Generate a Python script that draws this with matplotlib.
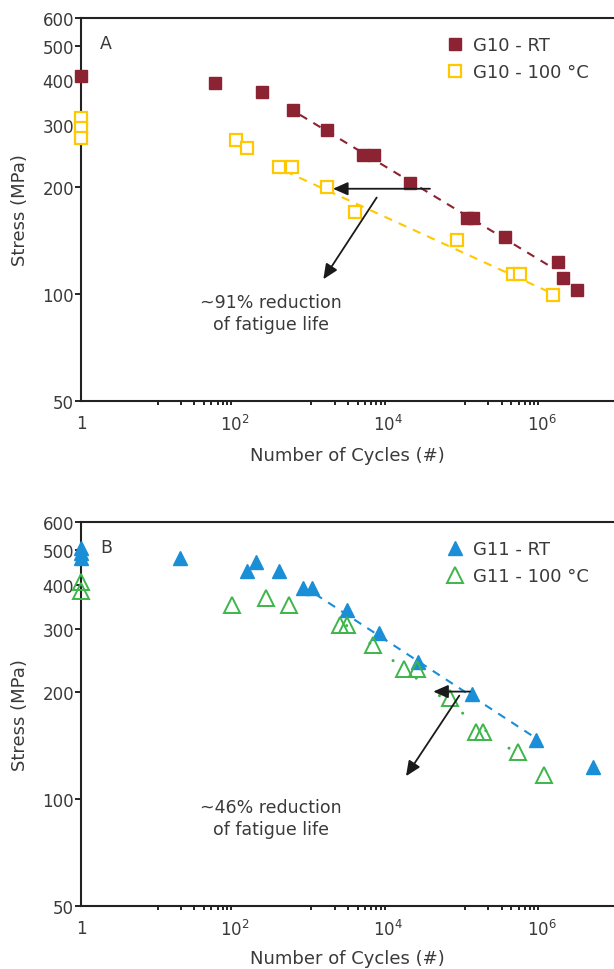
import numpy as np
import matplotlib
matplotlib.use('Agg')
import matplotlib.pyplot as plt
from matplotlib.ticker import FixedLocator, FixedFormatter, NullFormatter

plt.rcParams['font.family'] = ['DejaVu Sans']
plt.rcParams['mathtext.fontset'] = 'dejavusans'

TXT = '#3a3a3a'

# panel A - G10
g10_rt_n = [1, 56, 225, 571, 1583, 4740, 6530, 19200, 105000, 128500, 331000, 1.61e6, 1.9e6, 2.9e6]
g10_rt_s = [412, 393, 370, 330, 290, 247, 247, 205, 164, 164, 145, 123, 111, 102.6]
g10_ht_n = [1, 1, 1, 103, 146, 382, 559, 1583, 3700, 78000, 425000, 520000, 1.41e6]
g10_ht_s = [313, 293, 275, 272, 258, 228, 228, 200, 170, 142, 114, 114, 99.4]
g10_rt_fit_n = [710, 1.34e6]
g10_rt_fit_s = [320, 119]
g10_ht_fit_n = [453, 1.16e6]
g10_ht_fit_s = [222, 102]

# panel B - G11
g11_rt_n = [1, 1, 1, 19.5, 144, 188, 382, 785, 1010, 2880, 7590, 24660, 124000, 832000, 4.68e6]
g11_rt_s = [508, 492, 475, 475, 438, 463, 438, 391, 391, 340, 293, 242, 197, 146, 122.6]
g11_ht_n = [1, 1, 93, 254, 515, 2360, 2940, 6280, 16060, 23500, 63800, 137700, 170000, 485000, 1.08e6]
g11_ht_s = [407, 383, 350, 367, 350, 308, 308, 270, 232, 232, 192, 154, 154, 135, 116.7]
g11_rt_fit_n = [1114, 948000]
g11_rt_fit_s = [377, 145.5]
g11_ht_fit_n = [2880, 675000]
g11_ht_fit_s = [307, 126]

# arrows: (x_from, y_from, x_to, y_to)
arrows_a = [(35000, 198, 1910, 198), (7080, 187, 1430, 110)]
arrows_b = [(116000, 200.2, 38600, 200.2), (84300, 195, 17050, 115.7)]

y_ticks = [50, 100, 200, 300, 400, 500, 600]
x_ticks = [1, 1e2, 1e4, 1e6]
x_labels = ['1', r'$\mathregular{10^{2}}$', r'$\mathregular{10^{4}}$', r'$\mathregular{10^{6}}$']

RED = '#8B2332'
YEL = '#FFC800'
BLUE = '#1A8ED6'
GREEN = '#3DB54A'

fig = plt.figure(figsize=(6.14, 9.70), dpi=100)
axA = fig.add_axes([0.1319, 0.5859, 0.8681, 0.3945])
axB = fig.add_axes([0.1319, 0.0653, 0.8681, 0.3953])


def style(ax, letter, xpad):
    ax.set_xscale('log')
    ax.set_yscale('log')
    ax.set_xlim(1, 10 ** 6.94)
    ax.set_ylim(50, 600)
    ax.spines['right'].set_visible(False)
    for s in ['left', 'bottom', 'top']:
        ax.spines[s].set_linewidth(1.5)
        ax.spines[s].set_color('#222222')
    ax.yaxis.set_major_locator(FixedLocator(y_ticks))
    ax.yaxis.set_major_formatter(FixedFormatter([str(v) for v in y_ticks]))
    ax.yaxis.set_minor_locator(FixedLocator([]))
    ax.xaxis.set_major_locator(FixedLocator(x_ticks))
    ax.xaxis.set_major_formatter(FixedFormatter(x_labels))
    minors = [k * 10 ** d for d in (1, 3, 5) for k in range(1, 10)]
    ax.xaxis.set_minor_locator(FixedLocator(minors))
    ax.xaxis.set_minor_formatter(NullFormatter())
    ax.tick_params(axis='y', which='major', length=4, width=1.2, labelsize=12,
                   labelcolor=TXT, pad=1)
    ax.tick_params(axis='x', which='major', length=0, labelsize=12,
                   labelcolor=TXT, pad=9.5)
    ax.tick_params(axis='x', which='minor', length=3, width=1.2)
    ax.set_ylabel('Stress (MPa)', fontsize=13, color=TXT, labelpad=10)
    ax.set_xlabel('Number of Cycles (#)', fontsize=13, color=TXT, labelpad=xpad)
    ax.text(0.047, 0.935, letter, transform=ax.transAxes, fontsize=12.5,
            color=TXT, ha='center', va='center')


style(axA, 'A', 9)
style(axB, 'B', 7.5)

# panel A
axA.plot(g10_rt_fit_n, g10_rt_fit_s, color=RED, lw=1.5, ls=(0, (4, 3.5)))
axA.plot(g10_ht_fit_n, g10_ht_fit_s, color=YEL, lw=1.5, ls=(0, (4, 3.5)))
axA.plot(g10_rt_n, g10_rt_s, 's', color=RED, ms=8.6, mec=RED, ls='none',
         clip_on=False, zorder=5, label='G10 - RT')
axA.plot(g10_ht_n, g10_ht_s, 's', color=YEL, ms=8.2, mfc='white', mec=YEL,
         mew=1.6, ls='none', clip_on=False, zorder=5, label='G10 - 100 °C')

# panel B
axB.plot(g11_rt_fit_n, g11_rt_fit_s, color=BLUE, lw=1.5, ls=(0, (4, 3.5)))
axB.plot(g11_ht_fit_n, g11_ht_fit_s, color=GREEN, lw=2.2, ls=(0, (0.01, 9.5)),
         dash_capstyle='round')
axB.plot(g11_rt_n, g11_rt_s, '^', color=BLUE, ms=10, mec=BLUE, ls='none',
         clip_on=False, zorder=5, label='G11 - RT')
axB.plot(g11_ht_n, g11_ht_s, '^', color=GREEN, ms=11.5, mfc='none', mec=GREEN,
         mew=1.4, ls='none', clip_on=False, zorder=5, label='G11 - 100 °C')

for ax, arrows in ((axA, arrows_a), (axB, arrows_b)):
    for x0, y0, x1, y1 in arrows:
        ax.annotate('', xy=(x1, y1), xytext=(x0, y0),
                    arrowprops=dict(arrowstyle='-|>,head_length=0.9,head_width=0.4',
                                    color='#1a1a1a', lw=1.3, shrinkA=0, shrinkB=0),
                    zorder=6)

for ax, pct, ypix in ((axA, '~91%', 314), (axB, '~46%', 819)):
    ax.text(271 / 100, (970 - ypix) / 100, pct + ' reduction\nof fatigue life',
            transform=fig.dpi_scale_trans, fontsize=12.5, color=TXT,
            ha='center', va='center', linespacing=1.3)

for ax in (axA, axB):
    leg = ax.legend(loc='upper left', bbox_to_anchor=(0.672, 0.972), frameon=False,
                    handlelength=1.0, handletextpad=0.45,
                    labelspacing=0.5, borderaxespad=0, prop={'size': 13})
    for t in leg.get_texts():
        t.set_color(TXT)

fig.savefig('out.png', dpi=100)
